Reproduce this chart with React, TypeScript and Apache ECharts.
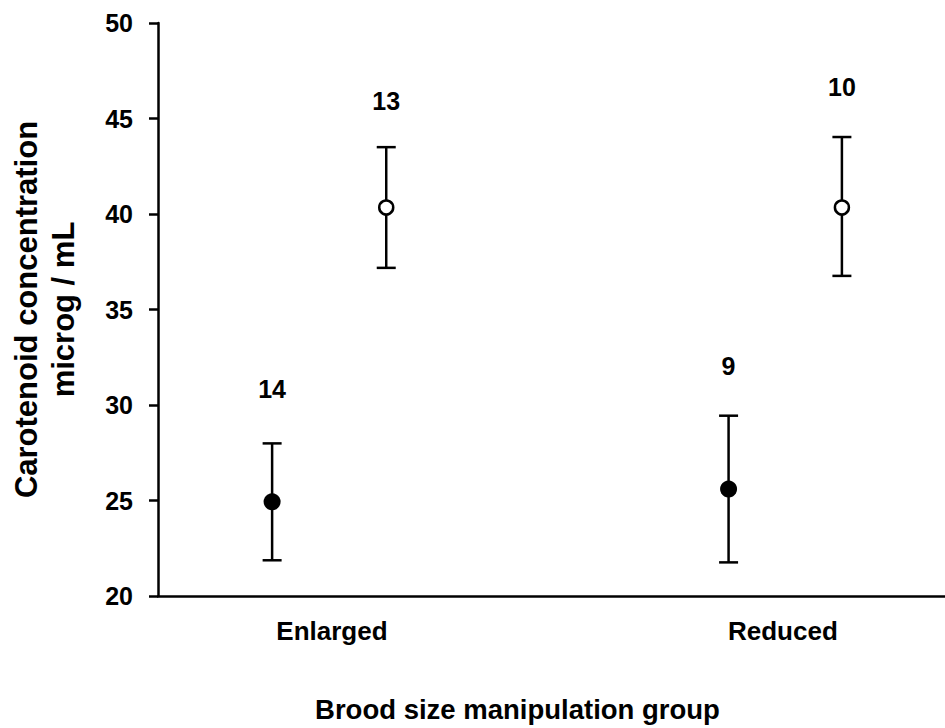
import React, { useEffect, useRef } from "react";
import * as echarts from "echarts";

// ---- Data ----
const categories = ["Enlarged", "Reduced"];
const categoryLabelX = [2.21, 7.94];

// filled circles
const filledX = [1.45, 7.25];
const filledMean = [24.93, 25.6];
const filledLow = [21.87, 21.76];
const filledHigh = [27.99, 29.44];
const filledN = [14, 9];
const filledNLabelY = [30.85, 32.04];

// open circles
const openX = [2.9, 8.69];
const openMean = [40.34, 40.34];
const openLow = [37.18, 36.76];
const openHigh = [43.5, 44.03];
const openN = [13, 10];
const openNLabelY = [45.9, 46.67];

const yTicks = { min: 20, max: 50, interval: 5 };

const FONT = "'Liberation Sans', Arial, Helvetica, sans-serif";

export default function App() {
  const ref = useRef<HTMLDivElement>(null);

  useEffect(() => {
    document.body.style.margin = "0";
    if (!ref.current) return;
    const chart = echarts.init(ref.current, undefined, { renderer: "svg" });

    const errorData = [
      ...filledX.map((x, i) => [x, filledLow[i], filledHigh[i]]),
      ...openX.map((x, i) => [x, openLow[i], openHigh[i]]),
    ];
    const nData = [
      ...filledX.map((x, i) => [x, filledNLabelY[i], filledN[i]]),
      ...openX.map((x, i) => [x, openNLabelY[i], openN[i]]),
    ];

    const option: any = {
      animation: false,
      backgroundColor: "#ffffff",
      grid: { left: 152, right: 0, top: 23, bottom: 127, containLabel: false },
      xAxis: {
        type: "value",
        min: 0,
        max: 10,
        splitLine: { show: false },
        axisTick: { show: false },
        axisLine: { show: true, lineStyle: { color: "#000", width: 2.5 } },
        axisLabel: {
          show: true,
          customValues: categoryLabelX,
          margin: 22,
          color: "#000",
          fontFamily: FONT,
          fontWeight: "bold",
          fontSize: 26,
          formatter: (v: number) => {
            let best = 0;
            let d = Infinity;
            categoryLabelX.forEach((c, i) => {
              if (Math.abs(c - v) < d) {
                d = Math.abs(c - v);
                best = i;
              }
            });
            return d < 0.05 ? categories[best] : "";
          },
        },
        name: "Brood size manipulation group",
        nameLocation: "middle",
        nameGap: 99,
        nameTextStyle: {
          color: "#000",
          fontFamily: FONT,
          fontWeight: "bold",
          fontSize: 27.5,
          padding: [0, 68, 0, 0],
        },
      },
      yAxis: {
        type: "value",
        min: yTicks.min,
        max: yTicks.max,
        interval: yTicks.interval,
        splitLine: { show: false },
        axisLine: { show: true, lineStyle: { color: "#000", width: 2.5 } },
        axisTick: {
          show: true,
          inside: false,
          length: 9,
          lineStyle: { color: "#000", width: 2.5 },
        },
        axisLabel: {
          margin: 25,
          color: "#000",
          fontFamily: FONT,
          fontWeight: "bold",
          fontSize: 25,
        },
        name: "Carotenoid concentration\nmicrog / mL",
        nameLocation: "middle",
        nameRotate: 90,
        nameGap: 76,
        nameTextStyle: {
          color: "#000",
          fontFamily: FONT,
          fontWeight: "bold",
          fontSize: 31,
          lineHeight: 37,
          align: "center",
        },
      },
      series: [
        {
          type: "custom",
          name: "error bars",
          data: errorData,
          encode: { x: 0, y: [1, 2] },
          z: 2,
          renderItem: (params: any, api: any) => {
            const x = api.value(0);
            const lo = api.coord([x, api.value(1)]);
            const hi = api.coord([x, api.value(2)]);
            const half = 9.5;
            const style = { stroke: "#000", lineWidth: 2.5 };
            return {
              type: "group",
              children: [
                { type: "line", shape: { x1: lo[0], y1: lo[1], x2: hi[0], y2: hi[1] }, style },
                { type: "line", shape: { x1: hi[0] - half, y1: hi[1], x2: hi[0] + half, y2: hi[1] }, style },
                { type: "line", shape: { x1: lo[0] - half, y1: lo[1], x2: lo[0] + half, y2: lo[1] }, style },
              ],
            };
          },
        },
        {
          type: "scatter",
          name: "Filled",
          data: filledX.map((x, i) => [x, filledMean[i]]),
          symbol: "circle",
          symbolSize: 17,
          itemStyle: { color: "#000", opacity: 1 },
          z: 3,
        },
        {
          type: "scatter",
          name: "Open",
          data: openX.map((x, i) => [x, openMean[i]]),
          symbol: "circle",
          symbolSize: 14,
          itemStyle: { color: "#fff", borderColor: "#000", borderWidth: 2.5, opacity: 1 },
          z: 3,
        },
        {
          type: "scatter",
          name: "n",
          data: nData,
          symbolSize: 0,
          z: 4,
          itemStyle: { color: "#000", opacity: 1 },
          label: {
            show: true,
            position: "inside",
            formatter: (p: any) => String(p.value[2]),
            color: "#000",
            opacity: 1,
            textBorderWidth: 0,
            fontFamily: FONT,
            fontWeight: "bold",
            fontSize: 25,
          },
        },
      ],
    };

    chart.setOption(option);
    return () => chart.dispose();
  }, []);

  return <div ref={ref} style={{ width: 945, height: 728 }} />;
}
